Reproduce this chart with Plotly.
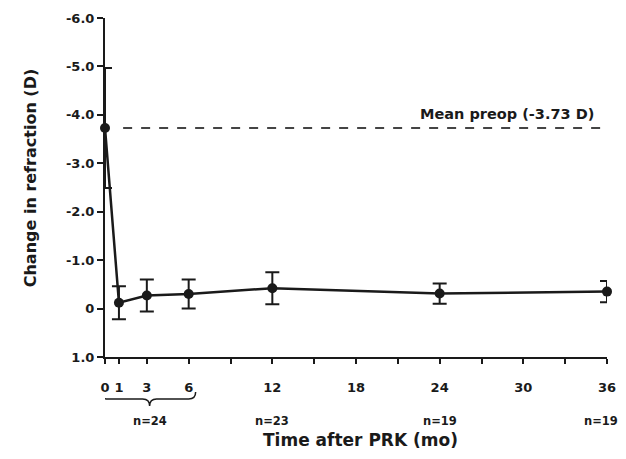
import plotly.graph_objects as go

months = [0, 1, 3, 6, 12, 24, 36]
mean_change = [-3.73, -0.12, -0.27, -0.30, -0.42, -0.31, -0.35]
sd_change = [1.24, 0.34, 0.33, 0.30, 0.33, 0.21, 0.22]
preop_mean = -3.73

y_tickvals = [-6, -5, -4, -3, -2, -1, 0, 1]
y_ticktext = ["-6.0", "-5.0", "-4.0", "-3.0", "-2.0", "-1.0", "0", "1.0"]
x_tickvals = [0, 1, 3, 6, 9, 12, 15, 18, 21, 24, 27, 30, 33, 36]
x_ticktext = ["0", "1", "3", "6", "", "12", "", "18", "", "24", "", "30", "", "36"]
n_labels = ["n=24", "n=23", "n=19", "n=19"]
n_positions = [3.2, 12, 24, 35.6]

FONT = "DejaVu Sans, Verdana, sans-serif"
INK = "#1a1a1a"

# page offset of the figure (browser body margin)
OFF = 8
PLOT_L, PLOT_R, PLOT_T, PLOT_B = 105, 607, 17.5, 357  # page pixels
W, H = 618, 451

fig = go.Figure()

fig.add_trace(go.Scatter(
    x=[1.3, 35.6], y=[preop_mean, preop_mean], mode="lines",
    line=dict(color="#444", width=2, dash="dash"), hoverinfo="skip", showlegend=False))

fig.add_trace(go.Scatter(
    x=months, y=mean_change, mode="lines+markers",
    line=dict(color=INK, width=2.5),
    marker=dict(color=INK, size=10),
    error_y=dict(type="data", array=sd_change, visible=True, color=INK, thickness=2, width=7),
    cliponaxis=False, showlegend=False))

fig.add_annotation(x=28.85, y=-4.02, xref="x", yref="y", text="Mean preop (-3.73 D)",
                   showarrow=False, xanchor="center", yanchor="middle",
                   font=dict(family=FONT, size=14.5, color=INK, weight="bold"))

def yp(px):
    return (PLOT_B - px) / (PLOT_B - PLOT_T)

def xp(px):
    return (px - PLOT_L) / (PLOT_R - PLOT_L)

for lab, xv in zip(n_labels, n_positions):
    fig.add_annotation(x=xv, y=yp(421), xref="x", yref="paper", text=lab, showarrow=False,
                       xanchor="center", yanchor="middle",
                       font=dict(family=FONT, size=11.5, color=INK, weight="bold"))

fig.add_annotation(x=xp(360), y=yp(440), xref="paper", yref="paper", text="Time after PRK (mo)",
                   showarrow=False, xanchor="center", yanchor="middle",
                   font=dict(family=FONT, size=17, color=INK, weight="bold"))

fig.add_annotation(x=xp(30), y=yp(178), xref="paper", yref="paper", text="Change in refraction (D)",
                   textangle=-90, showarrow=False, xanchor="center", yanchor="middle",
                   font=dict(family=FONT, size=16, color=INK, weight="bold"))

x0, xm, x1 = -0.4, 3.2, 6.5
ya, yb, yc = yp(392), yp(399), yp(406)
d = 0.5
path = (f"M {x0},{ya} Q {x0},{yb} {x0+d},{yb} L {xm-d},{yb} Q {xm},{yb} {xm},{yc} "
        f"Q {xm},{yb} {xm+d},{yb} L {x1-d},{yb} Q {x1},{yb} {x1},{ya}")
fig.add_shape(type="path", path=path, xref="x", yref="paper",
              line=dict(color=INK, width=1.5))

fig.update_layout(
    width=W, height=H,
    margin=dict(l=PLOT_L - OFF, r=W - (PLOT_R - OFF), t=PLOT_T - OFF, b=H - (PLOT_B - OFF)),
    paper_bgcolor="white", plot_bgcolor="white",
    showlegend=False,
    xaxis=dict(range=[0, 36], tickvals=x_tickvals, ticktext=x_ticktext, automargin=False,
               ticks="outside", ticklen=5, tickwidth=1.5, tickcolor=INK,
               ticklabelstandoff=12,
               showline=True, linecolor=INK, linewidth=2, showgrid=False, zeroline=False,
               tickfont=dict(family=FONT, size=13, color=INK, weight="bold")),
    yaxis=dict(range=[1, -6], tickvals=y_tickvals, ticktext=y_ticktext, automargin=False,
               ticks="outside", ticklen=6, tickwidth=1.5, tickcolor=INK,
               showline=True, linecolor=INK, linewidth=2, showgrid=False, zeroline=False,
               tickfont=dict(family=FONT, size=13, color=INK, weight="bold")),
)

fig.write_html("out.html")
